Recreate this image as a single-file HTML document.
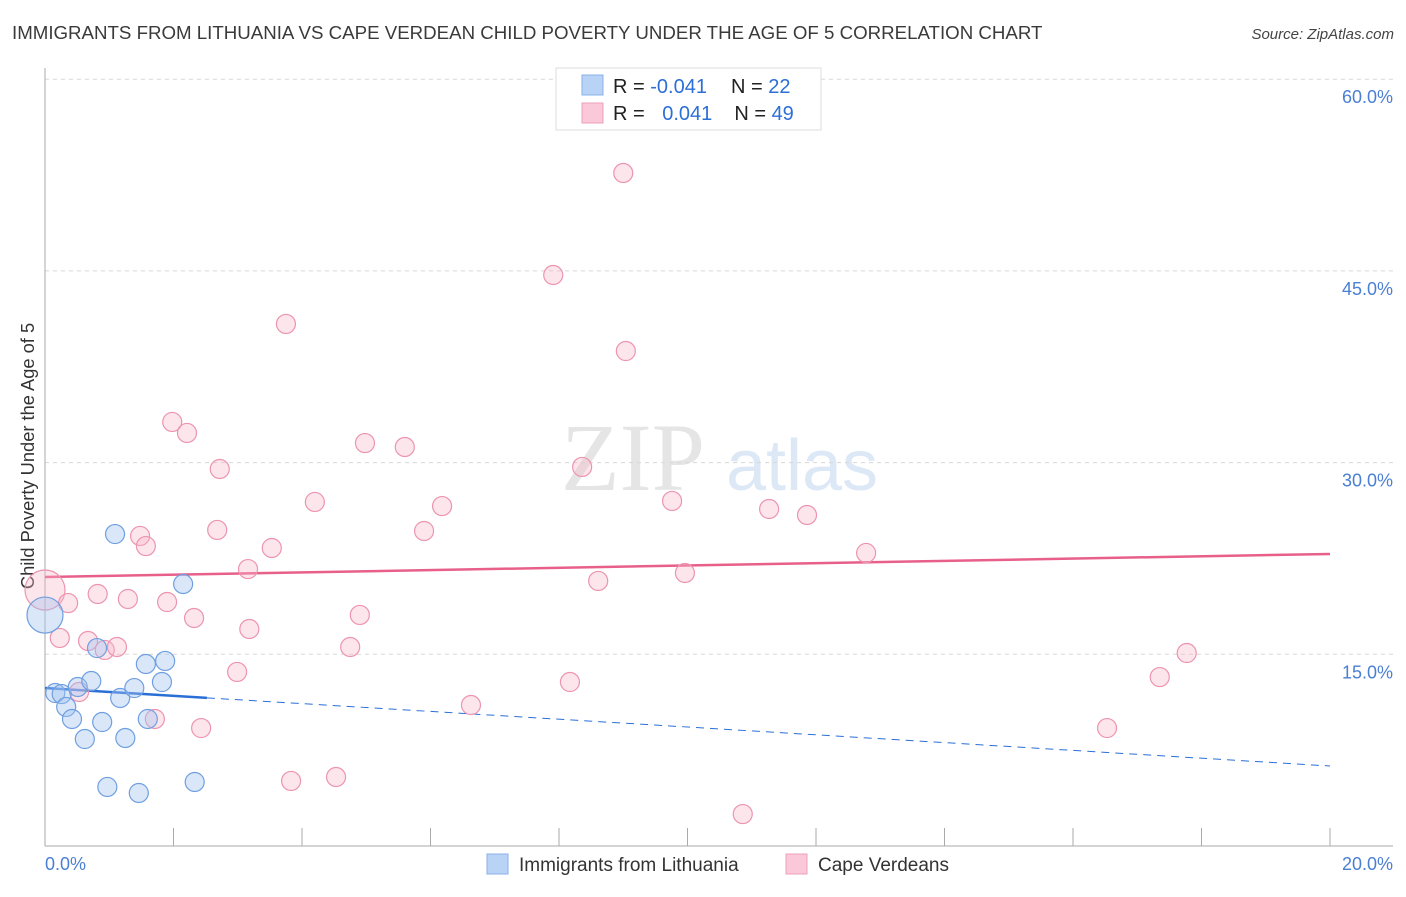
<!DOCTYPE html>
<html><head><meta charset="utf-8"><style>
body{margin:0;background:#fff;font-family:"Liberation Sans",sans-serif;}
</style></head><body>
<svg id="chart" width="1406" height="892" xmlns="http://www.w3.org/2000/svg" font-family="Liberation Sans, sans-serif">
<text x="12" y="39" font-size="18.7" fill="#3a3a3a">IMMIGRANTS FROM LITHUANIA VS CAPE VERDEAN CHILD POVERTY UNDER THE AGE OF 5 CORRELATION CHART</text>
<text x="1394" y="39" font-size="15" fill="#444" text-anchor="end" font-style="italic">Source: ZipAtlas.com</text>
<g opacity="0.25">
<text x="633" y="490" font-size="96" fill="#999" font-family="Liberation Serif, serif" text-anchor="middle">ZIP</text>
<text x="802" y="490" font-size="72" fill="#7aa6e0" text-anchor="middle">atlas</text>
</g>
<text transform="translate(34,456) rotate(-90)" font-size="18.3" fill="#333" text-anchor="middle">Child Poverty Under the Age of 5</text>
<g id="grid"></g><g id="axes"></g><g id="trends"></g><g id="pts"></g>
<g>
<rect x="556" y="68" width="265" height="62" fill="#fff" stroke="#ddd"/>
<rect x="582" y="75" width="21" height="20" fill="#b8d3f5" stroke="#8ab0e8"/>
<rect x="582" y="103" width="21" height="20" fill="#fac8d8" stroke="#eea0b8"/>
<text x="613" y="93" font-size="20" fill="#222">R = <tspan fill="#2c6fd6">-0.041</tspan><tspan dx="24">N = </tspan><tspan fill="#2c6fd6">22</tspan></text>
<text x="613" y="120" font-size="20" fill="#222">R = <tspan fill="#2c6fd6" dx="12">0.041</tspan><tspan dx="22">N = </tspan><tspan fill="#2c6fd6">49</tspan></text>
</g>
<g>
<rect x="487" y="854" width="21" height="20" fill="#b8d3f5" stroke="#8ab0e8"/>
<text x="519" y="871" font-size="19" fill="#333">Immigrants from Lithuania</text>
<rect x="786" y="854" width="21" height="20" fill="#fac8d8" stroke="#eea0b8"/>
<text x="818" y="871" font-size="19" fill="#333">Cape Verdeans</text>
</g>
</svg>
<script>
const xTicks=[0,20];
const yTicks=[15,30,45,60];
const blueX=[0,0.16,0.26,0.33,0.42,0.51,0.62,0.72,0.81,0.89,0.97,1.09,1.17,1.25,1.39,1.46,1.57,1.60,1.82,1.87,2.15,2.33];
const blueY=[18.07,11.97,11.89,10.88,9.94,12.44,8.37,12.91,15.49,9.70,4.62,24.41,11.58,8.45,12.36,4.15,14.24,9.94,12.83,14.48,20.50,5.01];
const pinkX=[0,.23,.36,.53,.67,.82,.93,1.12,1.29,1.48,1.57,1.71,1.90,1.98,2.21,2.32,2.43,2.68,2.72,2.99,3.16,3.18,3.53,3.75,3.83,4.20,4.53,4.75,4.90,4.98,5.60,5.90,6.18,6.63,7.91,8.17,8.36,8.61,9.00,9.04,9.76,9.96,10.86,11.27,11.86,12.78,16.53,17.35,17.77];
const pinkY=[20.03,16.28,19.01,12.05,16.04,19.72,15.34,15.57,19.33,24.26,23.47,9.94,19.09,33.18,32.32,17.84,9.23,24.73,29.50,13.62,21.67,16.98,23.32,40.85,5.09,26.92,5.40,15.57,18.08,31.53,31.22,24.65,26.60,11.03,44.68,12.83,29.66,20.74,52.66,38.73,27.00,21.36,2.50,26.37,25.90,22.93,9.23,13.22,15.10];
const blueTrend=[12.36,6.26];
const pinkTrend=[21.05,22.85];
const NS="http://www.w3.org/2000/svg";
const X=v=>45+v/20*1285, Y=v=>846-v*12.78;
function mk(t,a,p){const e=document.createElementNS(NS,t);for(const k in a)e.setAttribute(k,a[k]);document.getElementById(p).appendChild(e);return e;}
yTicks.forEach(t=>{
 const g=mk('line',{x1:45,x2:1393,y1:Y(t),y2:Y(t),stroke:'#d8d8d8','stroke-dasharray':'4,4'},'grid');
 
 
 const l=mk('text',{x:1393,y:Y(t)+24,'font-size':18,fill:'#4a7fd4','text-anchor':'end'},'grid');
 l.textContent=t.toFixed(1)+'%';
 
 
});
mk('line',{x1:45,x2:45,y1:68,y2:846,stroke:'#aaa'},'axes');
mk('line',{x1:45,x2:1393,y1:846,y2:846,stroke:'#aaa'},'axes');
for(let i=1;i<=10;i++){const t=mk('line',{x1:X(i*2),x2:X(i*2),y1:828,y2:846,stroke:'#aaa'},'axes');
 
 }
xTicks.forEach((t,i)=>{const l=mk('text',{x:i?1393:45,y:870,'font-size':18,fill:'#4a7fd4','text-anchor':i?'end':'start'},'axes');
 l.textContent=t.toFixed(1)+'%';
 
 });
let t1=mk('line',{x1:X(0),x2:X(20),y1:Y(pinkTrend[0]),y2:Y(pinkTrend[1]),stroke:'#e8608a','stroke-width':2.5},'trends');


const bAt=x=>blueTrend[0]+(blueTrend[1]-blueTrend[0])*x/20;
let t2=mk('line',{x1:X(0),x2:X(2.52),y1:Y(bAt(0)),y2:Y(bAt(2.52)),stroke:'#2a6fd6','stroke-width':2.5},'trends');


let t3=mk('line',{x1:X(2.52),x2:X(20),y1:Y(bAt(2.52)),y2:Y(bAt(20)),stroke:'#2a6fd6','stroke-width':1,'stroke-dasharray':'8,6'},'trends');


pinkX.forEach((x,i)=>{const c=mk('circle',{cx:X(x),cy:Y(pinkY[i]),r:i==0?20:9.5,fill:'rgba(248,180,200,0.35)',stroke:'#ec94b0','stroke-width':1.2},'pts');
 
 });
blueX.forEach((x,i)=>{const c=mk('circle',{cx:X(x),cy:Y(blueY[i]),r:i==0?18:9.5,fill:'rgba(160,195,240,0.4)',stroke:'#6f9fe0','stroke-width':1.2},'pts');
 
 });
</script>
</body></html>
